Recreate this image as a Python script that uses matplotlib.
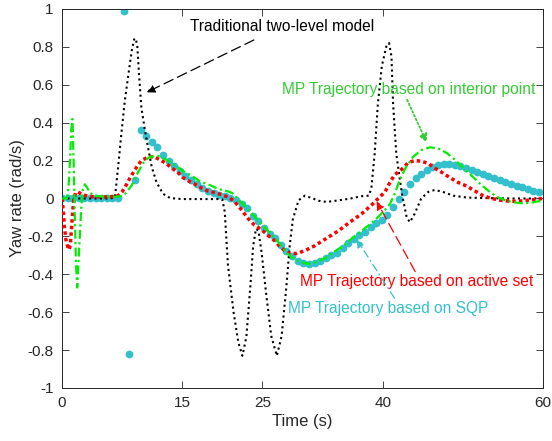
import numpy as np
import matplotlib
matplotlib.use('Agg')
import matplotlib.pyplot as plt

plt.rcParams['font.family'] = ['Liberation Sans', 'DejaVu Sans']

# Traditional two-level model (black dotted)
trad_t = [0, 6.0, 6.6, 7.0, 7.4, 7.85, 8.3, 8.7, 9.0, 9.2, 9.4, 9.6, 9.9, 10.35, 10.8, 11.2, 11.8,
          12.6, 13.5, 15, 17, 19.5, 20.0, 20.3, 20.7, 21.4, 22.0, 22.5, 23.0, 23.5, 23.85, 24.2,
          24.5, 24.9, 25.5, 26.1, 26.8, 27.4, 28.0, 28.4, 28.8, 29.5, 30.3, 31.3, 32.0, 33.0,
          34.5, 36.0, 37.3, 38.3, 38.6, 39.0, 39.4, 39.9, 40.5, 40.8, 41.1, 41.3, 41.7, 42.4,
          43.0, 43.4, 44.0, 44.8, 45.7, 46.5, 47.5, 48.8, 50.5, 53, 56, 60]
trad_v = [0, 0, 0.005, 0.165, 0.34, 0.52, 0.66, 0.78, 0.84, 0.845, 0.80, 0.66, 0.48, 0.36, 0.255,
          0.165, 0.085, 0.025, 0.002, -0.003, -0.003, -0.003, -0.005, -0.07, -0.35, -0.60, -0.76,
          -0.83, -0.73, -0.46, -0.25, -0.16, -0.17, -0.285, -0.515, -0.725, -0.83, -0.725, -0.46,
          -0.25, -0.11, -0.01, 0.015, 0.0, -0.012, -0.018, -0.01, 0.0, 0.012, 0.015, 0.06, 0.235,
          0.50, 0.70, 0.81, 0.82, 0.75, 0.50, 0.235, 0.025, -0.10, -0.125, -0.08, 0.0, 0.035,
          0.045, 0.035, 0.015, 0.005, 0.002, 0.0, 0.0]

# MP trajectory based on active set (red dotted)
act_t = [0, 0.15, 0.3, 0.5, 0.75, 0.9, 1.05, 1.25, 1.45, 1.7, 2.0, 2.5, 3.5, 5.0, 6.5, 7.0, 7.5,
         8.0, 8.5, 9.3, 9.9, 10.8, 11.5, 12.2, 13.0, 13.7, 14.4, 15.1, 15.9, 16.6, 17.4, 18.2,
         19.1, 19.9, 20.9, 21.6, 22.3, 23.2, 24.0, 24.9, 25.7, 26.6, 27.2, 27.8, 28.4, 29.3,
         30.3, 31.5, 33.0, 34.5, 35.9, 37.4, 38.6, 39.2, 40.3, 40.9, 41.5, 42.4, 43.2, 44.0,
         44.8, 45.7, 46.5, 47.3, 48.4, 49.4, 50.5, 51.5, 52.5, 53.6, 54.8, 56.1, 57.3, 58.6, 60]
act_v = [0, -0.06, -0.15, -0.22, -0.26, -0.27, -0.24, -0.12, -0.01, 0.03, 0.035, 0.02, 0.01,
         0.008, 0.01, 0.015, 0.035, 0.07, 0.11, 0.165, 0.2, 0.22, 0.22, 0.205, 0.185, 0.16, 0.14,
         0.11, 0.09, 0.075, 0.055, 0.04, 0.03, 0.02, 0.005, -0.02, -0.055, -0.105, -0.14,
         -0.165, -0.195, -0.225, -0.255, -0.275, -0.29, -0.29, -0.275, -0.25, -0.21, -0.17,
         -0.125, -0.08, -0.035, -0.01, 0.035, 0.085, 0.125, 0.155, 0.19, 0.20, 0.197, 0.185,
         0.16, 0.14, 0.11, 0.085, 0.065, 0.04, 0.015, 0.0, -0.01, -0.015, -0.013, -0.007, 0.0]

# MP trajectory based on interior point (green dash-dot)
ip_t = [0, 0.6, 0.8, 1.0, 1.15, 1.3, 1.45, 1.6, 1.75, 1.9, 2.1, 2.4, 2.6, 2.85, 3.1, 3.5, 4.0,
        5.0, 7.0, 7.5, 8.0, 8.7, 9.5, 10.3, 11.0, 12.0, 13.0, 14.1, 15.1, 16.2, 17.2, 18.5,
        19.5, 20.5, 21.2, 21.8, 22.8, 23.9, 24.9, 25.9, 27.0, 27.8, 28.6, 29.7, 30.7, 31.8,
        32.8, 33.8, 34.9, 35.9, 36.9, 38.0, 39.0, 40.1, 40.9, 41.5, 42.1, 42.9, 43.8, 44.8,
        45.9, 46.9, 48.0, 49.0, 50.0, 51.1, 52.1, 53.2, 54.2, 55.2, 56.3, 57.3, 58.4, 59.4, 60]
ip_v = [0, 0, 0.05, 0.2, 0.36, 0.42, 0.2, -0.1, -0.35, -0.47, -0.3, -0.05, 0.05, 0.075, 0.06,
        0.03, 0.015, 0.01, 0.01, 0.015, 0.03, 0.07, 0.14, 0.2, 0.22, 0.225, 0.205, 0.175, 0.145,
        0.12, 0.09, 0.07, 0.05, 0.04, 0.03, 0.005, -0.04, -0.09, -0.135, -0.18, -0.23, -0.275,
        -0.31, -0.335, -0.345, -0.335, -0.315, -0.285, -0.255, -0.22, -0.185, -0.15, -0.115,
        -0.07, -0.03, 0.025, 0.095, 0.165, 0.22, 0.255, 0.27, 0.265, 0.24, 0.205, 0.165, 0.12,
        0.08, 0.04, 0.01, -0.008, -0.02, -0.025, -0.023, -0.015, -0.012]

# MP trajectory based on SQP (cyan markers, sampled every 0.7 s)
sqp_t = np.arange(0, 60, 0.7)
sqp_v = [0, 0, 0, 0, 0, 0, 0, 0, 0, 0, 0, 0.99, -0.82, 0.10, 0.36, 0.33, 0.30, 0.27, 0.23, 0.20,
         0.17, 0.145, 0.12, 0.095, 0.075, 0.055, 0.04, 0.03, 0.02, 0.012, 0.005, -0.01, -0.03,
         -0.05, -0.09, -0.12, -0.155, -0.19, -0.21, -0.245, -0.275, -0.305, -0.33, -0.34,
         -0.345, -0.34, -0.33, -0.315, -0.30, -0.285, -0.26, -0.235, -0.215, -0.195, -0.175,
         -0.15, -0.13, -0.115, -0.085, -0.045, -0.005, 0.035, 0.075, 0.11, 0.13, 0.15, 0.165,
         0.175, 0.18, 0.18, 0.175, 0.17, 0.16, 0.15, 0.14, 0.13, 0.12, 0.11, 0.10, 0.085, 0.075,
         0.065, 0.06, 0.05, 0.04, 0.035]

x_ticks = [0, 15, 25, 40, 60]
y_ticks = [1, 0.8, 0.6, 0.4, 0.2, 0, -0.2, -0.4, -0.6, -0.8, -1]
y_labels = ['1', '0.8', '0.6', '0.4', '0.2', '0', '-0.2', '-0.4', '-0.6', '-0.8', '-1']

green = '#00ee00'
cyan = '#33c0cc'
axc = '#262626'

fig = plt.figure(figsize=(5.52, 4.41), dpi=100)
ax = fig.add_axes([0.1123, 0.1202, 0.8714, 0.8594])

ax.plot(sqp_t, sqp_v, 'o', color=cyan, markersize=5.6, markeredgewidth=0, zorder=2)
ax.plot(trad_t, trad_v, color='black', lw=1.5, linestyle=(0, (1, 1.6)), zorder=3)
ax.plot(act_t, act_v, color='red', lw=2.5, linestyle=(0, (1, 0.9)), zorder=4)
ax.plot(ip_t, ip_v, color=green, lw=1.6, linestyle=(0, (4, 1.5, 1, 1.5)), zorder=5)

# annotations
fs = 11.2
ax.annotate('Traditional two-level model', xy=(10.55, 0.56), xytext=(16.0, 0.91),
            fontsize=fs, color='black', va='center', ha='left',
            arrowprops=dict(arrowstyle='-|>', color='black', lw=0.9, linestyle=(0, (8, 4)),
                            mutation_scale=12, shrinkA=6, shrinkB=0))
ax.annotate('MP Trajectory based on interior point', xy=(45.5, 0.295), xytext=(27.4, 0.575),
            fontsize=fs, color='#33cc33', va='center', ha='left',
            arrowprops=dict(arrowstyle='-|>', color='#33cc33', lw=1.3, linestyle=(0, (1, 1.3)),
                            mutation_scale=12, shrinkA=0, shrinkB=0, relpos=(0.49, 0)))
ax.annotate('MP Trajectory based on active set', xy=(39.25, -0.015), xytext=(29.7, -0.44),
            fontsize=fs, color='red', va='center', ha='left',
            arrowprops=dict(arrowstyle='-|>', color='red', lw=0.9, linestyle=(0, (8, 4)),
                            mutation_scale=12, shrinkA=0, shrinkB=0, relpos=(0.5, 1)))
ax.annotate('MP Trajectory based on SQP', xy=(36.75, -0.215), xytext=(28.2, -0.58),
            fontsize=fs, color=cyan, va='center', ha='left',
            arrowprops=dict(arrowstyle='-|>', color=cyan, lw=0.9, linestyle=(0, (6, 3, 1, 3)),
                            mutation_scale=12, shrinkA=0, shrinkB=0, relpos=(0.54, 1)))

ax.set_xlim(0, 60)
ax.set_ylim(-1, 1)
ax.set_xticks(x_ticks)
ax.set_yticks(y_ticks)
ax.set_yticklabels(y_labels)
ax.tick_params(direction='in', top=True, right=True, length=5, width=0.6,
               labelsize=11, colors=axc, pad=6)
for s in ax.spines.values():
    s.set_color(axc)
    s.set_linewidth(0.7)
ax.set_xlabel('Time (s)', fontsize=12, color=axc, labelpad=3)
ax.set_ylabel('Yaw rate (rad/s)', fontsize=12, color=axc, labelpad=2)

plt.savefig('out.png', dpi=100)
